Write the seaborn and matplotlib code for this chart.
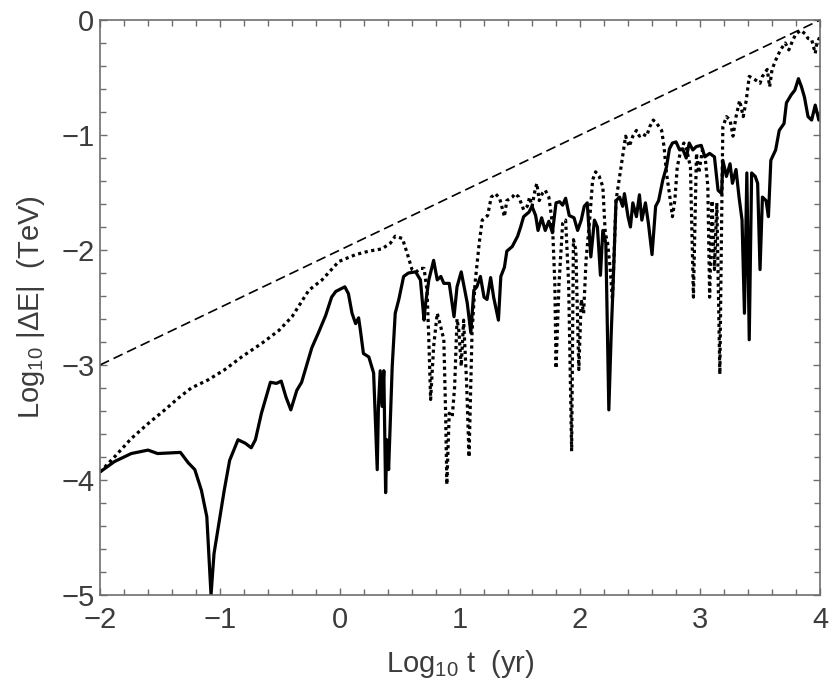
import numpy as np
import pandas as pd
import matplotlib
matplotlib.use("Agg")
import matplotlib.pyplot as plt
from matplotlib import font_manager
from matplotlib.ticker import MultipleLocator
import seaborn as sns

# solid curve
solid_x = [-2.00, -1.88, -1.74, -1.60, -1.52, -1.33, -1.265, -1.21, -1.155, -1.11, -1.075, -1.05, -1.01,
           -0.965, -0.92, -0.85, -0.79, -0.74, -0.705, -0.655, -0.58, -0.53, -0.49, -0.45, -0.41, -0.36,
           -0.32, -0.235, -0.18, -0.12, -0.07, -0.035, 0.04, 0.07, 0.10, 0.13, 0.155, 0.17, 0.195, 0.24,
           0.28, 0.31, 0.32, 0.335, 0.35, 0.365, 0.38, 0.39, 0.405, 0.435, 0.46, 0.49, 0.53, 0.57, 0.63,
           0.67, 0.70, 0.71, 0.74, 0.78, 0.81, 0.84, 0.865, 0.91, 0.95, 0.975, 1.01, 1.04, 1.06, 1.09,
           1.115, 1.14, 1.17, 1.20, 1.225, 1.255, 1.28, 1.32, 1.34, 1.37, 1.39, 1.435, 1.48, 1.505, 1.53,
           1.575, 1.60, 1.63, 1.65, 1.68, 1.71, 1.74, 1.77, 1.80, 1.83, 1.855, 1.88, 1.91, 1.95, 1.98,
           2.01, 2.035, 2.06, 2.09, 2.12, 2.145, 2.17, 2.19, 2.215, 2.24, 2.26, 2.275, 2.30, 2.33, 2.355,
           2.37, 2.40, 2.42, 2.44, 2.47, 2.495, 2.515, 2.545, 2.57, 2.60, 2.63, 2.655, 2.69, 2.72, 2.745,
           2.77, 2.80, 2.83, 2.855, 2.885, 2.91, 2.94, 2.97, 3.01, 3.04, 3.08, 3.12, 3.15, 3.18, 3.19,
           3.22, 3.25, 3.27, 3.30, 3.325, 3.35, 3.37, 3.39, 3.41, 3.43, 3.46, 3.48, 3.50, 3.52, 3.55,
           3.57, 3.59, 3.63, 3.66, 3.70, 3.72, 3.76, 3.79, 3.82, 3.845, 3.87, 3.90, 3.93, 3.96, 3.99, 4.00]
solid_y = [-3.93, -3.84, -3.77, -3.74, -3.77, -3.76, -3.85, -3.91, -4.09, -4.32, -5.00, -4.64, -4.38,
           -4.09, -3.83, -3.65, -3.68, -3.72, -3.65, -3.42, -3.15, -3.16, -3.14, -3.28, -3.39, -3.22,
           -3.15, -2.85, -2.72, -2.57, -2.41, -2.36, -2.32, -2.38, -2.55, -2.64, -2.59, -2.70, -2.90, -2.93,
           -3.07, -3.91, -3.36, -3.05, -3.36, -3.05, -4.11, -3.65, -3.91, -3.01, -2.55, -2.43, -2.23, -2.20, -2.19,
           -2.26, -2.61, -2.49, -2.26, -2.09, -2.26, -2.23, -2.29, -2.29, -2.58, -2.32, -2.19, -2.35, -2.46, -2.72,
           -2.35, -2.32, -2.23, -2.41, -2.43, -2.24, -2.41, -2.61, -2.23, -2.15, -2.01, -1.97, -1.88, -1.80, -1.71,
           -1.67, -1.62, -1.70, -1.83, -1.72, -1.83, -1.75, -1.85, -1.59, -1.58, -1.61, -1.55, -1.70, -1.72, -1.83,
           -1.74, -1.62, -1.59, -2.06, -1.74, -1.80, -2.22, -1.83, -1.94, -3.39, -2.72, -2.32, -1.57, -1.54, -1.62,
           -1.51, -1.71, -1.80, -1.59, -1.71, -1.52, -1.74, -1.59, -1.77, -2.04, -1.62, -1.57, -1.39, -1.28, -1.12,
           -1.07, -1.06, -1.13, -1.12, -1.20, -1.07, -1.13, -1.10, -1.09, -1.19, -1.16, -1.19, -1.48, -1.51, -1.22,
           -1.36, -1.25, -1.42, -1.30, -1.54, -1.74, -2.55, -1.33, -2.78, -1.33, -1.36, -1.42, -2.17, -1.54, -1.57,
           -1.71, -1.22, -1.13, -0.96, -0.90, -0.72, -0.65, -0.61, -0.51, -0.58, -0.67, -0.84, -0.87, -0.74, -0.87, -0.83]

# dotted curve
dotted_x = [-2.00, -1.88, -1.74, -1.60, -1.46, -1.35, -1.24, -1.10, -0.96, -0.82, -0.65, -0.51, -0.40, -0.26,
            -0.15, -0.01, 0.13, 0.24, 0.35, 0.42, 0.46, 0.52, 0.56, 0.60, 0.635, 0.67, 0.70, 0.725, 0.74, 0.755,
            0.78, 0.81, 0.84, 0.865, 0.88, 0.89, 0.91, 0.935, 0.955, 0.975, 0.99, 1.01, 1.03, 1.055, 1.075,
            1.10, 1.125, 1.16, 1.185, 1.23, 1.26, 1.295, 1.33, 1.37, 1.39, 1.435, 1.46, 1.49, 1.53, 1.56,
            1.58, 1.60, 1.625, 1.64, 1.66, 1.685, 1.71, 1.74, 1.77, 1.79, 1.80, 1.825, 1.855, 1.88, 1.905,
            1.93, 1.945, 1.965, 1.99, 2.01, 2.03, 2.05, 2.08, 2.105, 2.13, 2.16, 2.19, 2.21, 2.23, 2.25,
            2.27, 2.30, 2.33, 2.355, 2.38, 2.41, 2.44, 2.47, 2.495, 2.52, 2.555, 2.58, 2.61, 2.64, 2.68,
            2.70, 2.72, 2.745, 2.77, 2.79, 2.81, 2.84, 2.865, 2.89, 2.92, 2.945, 2.97, 2.99, 3.02, 3.04,
            3.065, 3.08, 3.10, 3.12, 3.14, 3.165, 3.18, 3.19, 3.22, 3.25, 3.275, 3.30, 3.33, 3.36, 3.385,
            3.41, 3.46, 3.50, 3.52, 3.56, 3.58, 3.60, 3.63, 3.67, 3.71, 3.74, 3.775, 3.80, 3.84, 3.875,
            3.90, 3.93, 3.96, 3.97, 4.00]
dotted_y = [-3.93, -3.80, -3.64, -3.51, -3.39, -3.29, -3.20, -3.13, -3.04, -2.93, -2.81, -2.70, -2.58, -2.35,
            -2.26, -2.10, -2.04, -2.01, -1.99, -1.94, -1.88, -1.90, -2.03, -2.17, -2.19, -2.16, -2.16, -2.35, -2.78, -3.30,
            -2.84, -2.55, -2.67, -2.78, -3.42, -4.04, -3.42, -3.45, -3.19, -2.60, -2.70, -3.01, -2.61, -3.16, -3.80,
            -2.72, -2.29, -1.94, -1.74, -1.70, -1.54, -1.51, -1.55, -1.71, -1.57, -1.54, -1.51, -1.54, -1.65, -1.62,
            -1.54, -1.62, -1.48, -1.42, -1.57, -1.51, -1.48, -1.54, -1.77, -2.29, -3.03, -2.29, -1.77, -1.74, -2.29,
            -3.75, -1.91, -2.00, -3.04, -2.43, -2.55, -2.09, -1.74, -1.39, -1.32, -1.36, -1.45, -1.85, -1.94, -2.15,
            -2.43, -1.57, -1.36, -1.19, -1.01, -1.10, -1.01, -0.96, -1.01, -0.99, -1.01, -0.93, -0.87, -0.90, -0.96,
            -1.10, -1.33, -1.51, -1.71, -1.57, -1.28, -1.13, -1.07, -1.13, -1.28, -2.41, -1.16, -1.33, -1.13, -1.16,
            -1.45, -2.41, -1.57, -2.17, -1.59, -3.08, -1.74, -0.93, -0.84, -0.87, -1.01, -0.84, -0.70, -0.84, -0.70,
            -0.49, -0.52, -0.55, -0.49, -0.43, -0.58, -0.43, -0.35, -0.26, -0.20, -0.26, -0.17, -0.12, -0.09, -0.12,
            -0.16, -0.17, -0.29, -0.22, -0.14]

# dashed reference line
dashed_x = [-2.0, 4.0]
dashed_y = [-3.0, 0.0]

sns.set_style("ticks")
names = {f.name for f in font_manager.fontManager.ttflist}
font = "Liberation Sans Narrow" if "Liberation Sans Narrow" in names else "Liberation Sans"
plt.rcParams["font.family"] = [font, "DejaVu Sans"]
plt.rcParams["mathtext.fontset"] = "custom"
plt.rcParams["mathtext.rm"] = font
plt.rcParams["mathtext.it"] = font

text_col = "#3c3c3c"
frame_col = "#6e6e6e"

fig = plt.figure(figsize=(8.3, 6.95), dpi=100)
ax = fig.add_axes([0.1205, 0.1439, 0.8675, 0.8273])

solid = pd.DataFrame({"x": solid_x, "y": solid_y})
dotted = pd.DataFrame({"x": dotted_x, "y": dotted_y})
dashed = pd.DataFrame({"x": dashed_x, "y": dashed_y})

sns.lineplot(data=dashed, x="x", y="y", ax=ax, color="black", lw=1.2,
             estimator=None, sort=False).lines[-1].set_dashes([6, 3])
sns.lineplot(data=dotted, x="x", y="y", ax=ax, color="black", lw=2.3,
             estimator=None, sort=False).lines[-1].set_dashes([1, 1.1])
sns.lineplot(data=solid, x="x", y="y", ax=ax, color="black", lw=2.3,
             estimator=None, sort=False)

ax.set_xlim(-2, 4)
ax.set_ylim(-5, 0)
ax.xaxis.set_major_locator(MultipleLocator(1))
ax.xaxis.set_minor_locator(MultipleLocator(0.2))
ax.yaxis.set_major_locator(MultipleLocator(1))
ax.yaxis.set_minor_locator(MultipleLocator(0.2))
ax.tick_params(which="both", direction="in", top=True, right=True, color=frame_col,
               labelcolor=text_col, labelsize=21, width=1)
ax.tick_params(which="major", length=5)
ax.tick_params(axis="x", which="major", pad=8)
ax.tick_params(axis="y", which="major", pad=4)
ax.tick_params(which="minor", length=4)
for s in ax.spines.values():
    s.set_color(frame_col)
    s.set_linewidth(1.2)

ax.set_xlabel(r"Log$_{10}$ t  (yr)", fontsize=21, color=text_col, labelpad=10)
ax.set_ylabel(r"Log$_{10}$ |ΔE|  (TeV)", fontsize=21, color=text_col, labelpad=10)

fig.savefig("out.png", dpi=100)
